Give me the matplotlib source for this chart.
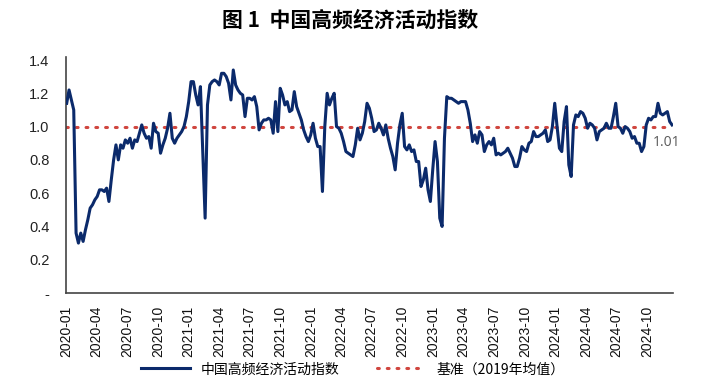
import matplotlib
matplotlib.use("Agg")
import matplotlib.pyplot as plt
import matplotlib.dates as mdates
import matplotlib.ticker as mticker
import pandas as pd
import numpy as np

plt.rcParams['font.family'] = ['Liberation Sans', 'Noto Sans CJK SC', 'DejaVu Sans']

start_date = "2020-01-03"
index_values = [
    1.14, 1.22, 1.16, 1.10, 0.36, 0.30, 0.36, 0.31, 0.38, 0.44,
    0.51, 0.53, 0.56, 0.58, 0.62, 0.62, 0.61, 0.63, 0.55, 0.68,
    0.80, 0.89, 0.80, 0.89, 0.87, 0.92, 0.90, 0.93, 0.87, 0.92,
    0.91, 0.96, 1.01, 0.96, 0.93, 0.94, 0.87, 1.02, 0.97, 0.96,
    0.84, 0.89, 0.93, 0.99, 1.08, 0.93, 0.90, 0.93, 0.95, 0.97,
    1.00, 1.06, 1.15,
    1.27, 1.27, 1.19, 1.13, 1.24, 0.85, 0.45, 1.13, 1.25, 1.27,
    1.28, 1.27, 1.25, 1.32, 1.32, 1.30, 1.26, 1.16, 1.34, 1.25,
    1.22, 1.20, 1.19, 1.06, 1.17, 1.17, 1.16, 1.18, 1.12, 0.98,
    1.02, 1.04, 1.04, 1.05, 1.04, 0.96, 1.15, 0.97, 1.23, 1.19,
    1.13, 1.15, 1.09, 1.10, 1.21, 1.12, 1.08, 1.04, 0.98, 0.94,
    0.91, 0.95, 1.02, 0.93, 0.88, 0.88, 0.61, 1.00, 1.20, 1.13,
    1.17, 1.20, 1.00, 0.99, 0.96, 0.91, 0.85, 0.84, 0.83, 0.82,
    0.89, 0.99, 0.92, 0.96, 1.03, 1.14, 1.11, 1.05, 0.97, 0.98,
    1.02, 0.99, 0.95, 1.01, 0.93, 0.87, 0.82, 0.74, 0.90, 1.01,
    1.08, 0.88, 0.86, 0.89, 0.85, 0.86, 0.79, 0.79, 0.64, 0.68,
    0.75, 0.62, 0.55, 0.74, 0.91, 0.79, 0.45, 0.40, 0.93, 1.18,
    1.17, 1.17, 1.16, 1.15, 1.14, 1.15, 1.15, 1.15, 1.10, 1.02,
    0.91, 0.95, 0.90, 0.97, 0.95, 0.85, 0.89, 0.91, 0.89, 0.93,
    0.83, 0.84, 0.83, 0.84, 0.85, 0.87, 0.84, 0.81, 0.76, 0.76,
    0.81, 0.88, 0.86, 0.85, 0.90, 0.91, 0.97, 0.94, 0.94, 0.95,
    0.96, 0.98, 0.91, 0.92, 1.00, 1.14, 1.00, 0.87, 0.85, 1.03,
    1.12, 0.77, 0.70, 1.01, 1.07, 1.06, 1.09, 1.08, 1.05, 0.99,
    1.02, 1.01, 0.99, 0.92, 0.97, 0.98, 0.99, 1.02, 0.99, 0.99,
    1.06, 1.14, 1.00, 0.99, 0.96, 1.00, 0.99, 0.97, 0.93, 0.94,
    0.90, 0.90, 0.85, 0.88, 1.01, 1.05, 1.04, 1.06, 1.06, 1.14,
    1.08, 1.07, 1.08, 1.09, 1.03, 1.01,
]
baseline = 1.0
last_label = "1.01"
title = "图 1  中国高频经济活动指数"
series_name = "中国高频经济活动指数"
baseline_name = "基准（2019年均值）"
y_ticks = [0, 0.2, 0.4, 0.6, 0.8, 1.0, 1.2, 1.4]

dates = pd.date_range(start_date, periods=len(index_values), freq="7D")

fig = plt.figure(figsize=(7.2, 3.8), dpi=100)
ax = fig.add_axes([0.0917, 0.2289, 0.8431, 0.6132 * 1.42 / 1.4])

navy = "#0B2A6B"
red = "#D0463F"

ax.plot(dates, index_values, color=navy, lw=2.2, label=series_name, zorder=3,
        solid_joinstyle="round")
ax.plot([pd.Timestamp("2020-01-01"), dates[-1]], [baseline, baseline], color=red,
        lw=2.2, linestyle=(0, (0.6, 2.6)), dash_capstyle="round",
        label=baseline_name, zorder=2)

ax.set_xlim(pd.Timestamp("2020-01-01"), pd.Timestamp("2024-12-16"))
ax.set_ylim(0, 1.42)

ax.set_yticks(y_ticks)
ax.yaxis.set_major_formatter(mticker.FuncFormatter(lambda v, p: "-" if abs(v) < 1e-9 else f"{v:.1f}"))
ax.tick_params(axis="y", length=0, labelsize=10.5, pad=12, colors="#222222")

ax.xaxis.set_major_locator(mdates.MonthLocator(bymonth=[1, 4, 7, 10]))
ax.xaxis.set_major_formatter(mdates.DateFormatter("%Y-%m"))
ax.xaxis.set_minor_locator(mdates.YearLocator())
ax.tick_params(axis="x", which="major", length=0, labelsize=10, rotation=90, pad=9, colors="#111111")
ax.tick_params(axis="x", which="minor", length=4, direction="in", width=1.0, color="#444444")

for s in ["top", "right"]:
    ax.spines[s].set_visible(False)
ax.spines["left"].set_color("#444444")
ax.spines["bottom"].set_color("#444444")
ax.spines["left"].set_linewidth(1.2)
ax.spines["bottom"].set_linewidth(1.2)

ax.annotate(last_label, xy=(dates[-1], index_values[-1]), xytext=(-14, -15),
            textcoords="offset points", fontsize=10, color="#595959",
            family=["Open Sans", "DejaVu Sans"])

fig.text(0.486, 0.947, title, ha="center", va="center", fontsize=15,
         family=["Noto Sans CJK SC"], fontweight="bold")

fig.legend(loc="center", bbox_to_anchor=(0.49, 0.028), ncol=2, frameon=False,
           columnspacing=2.7, handlelength=3.5, borderpad=0.2,
           prop={"family": ["Noto Sans CJK SC"], "size": 10})

fig.savefig("out.png", dpi=100)
